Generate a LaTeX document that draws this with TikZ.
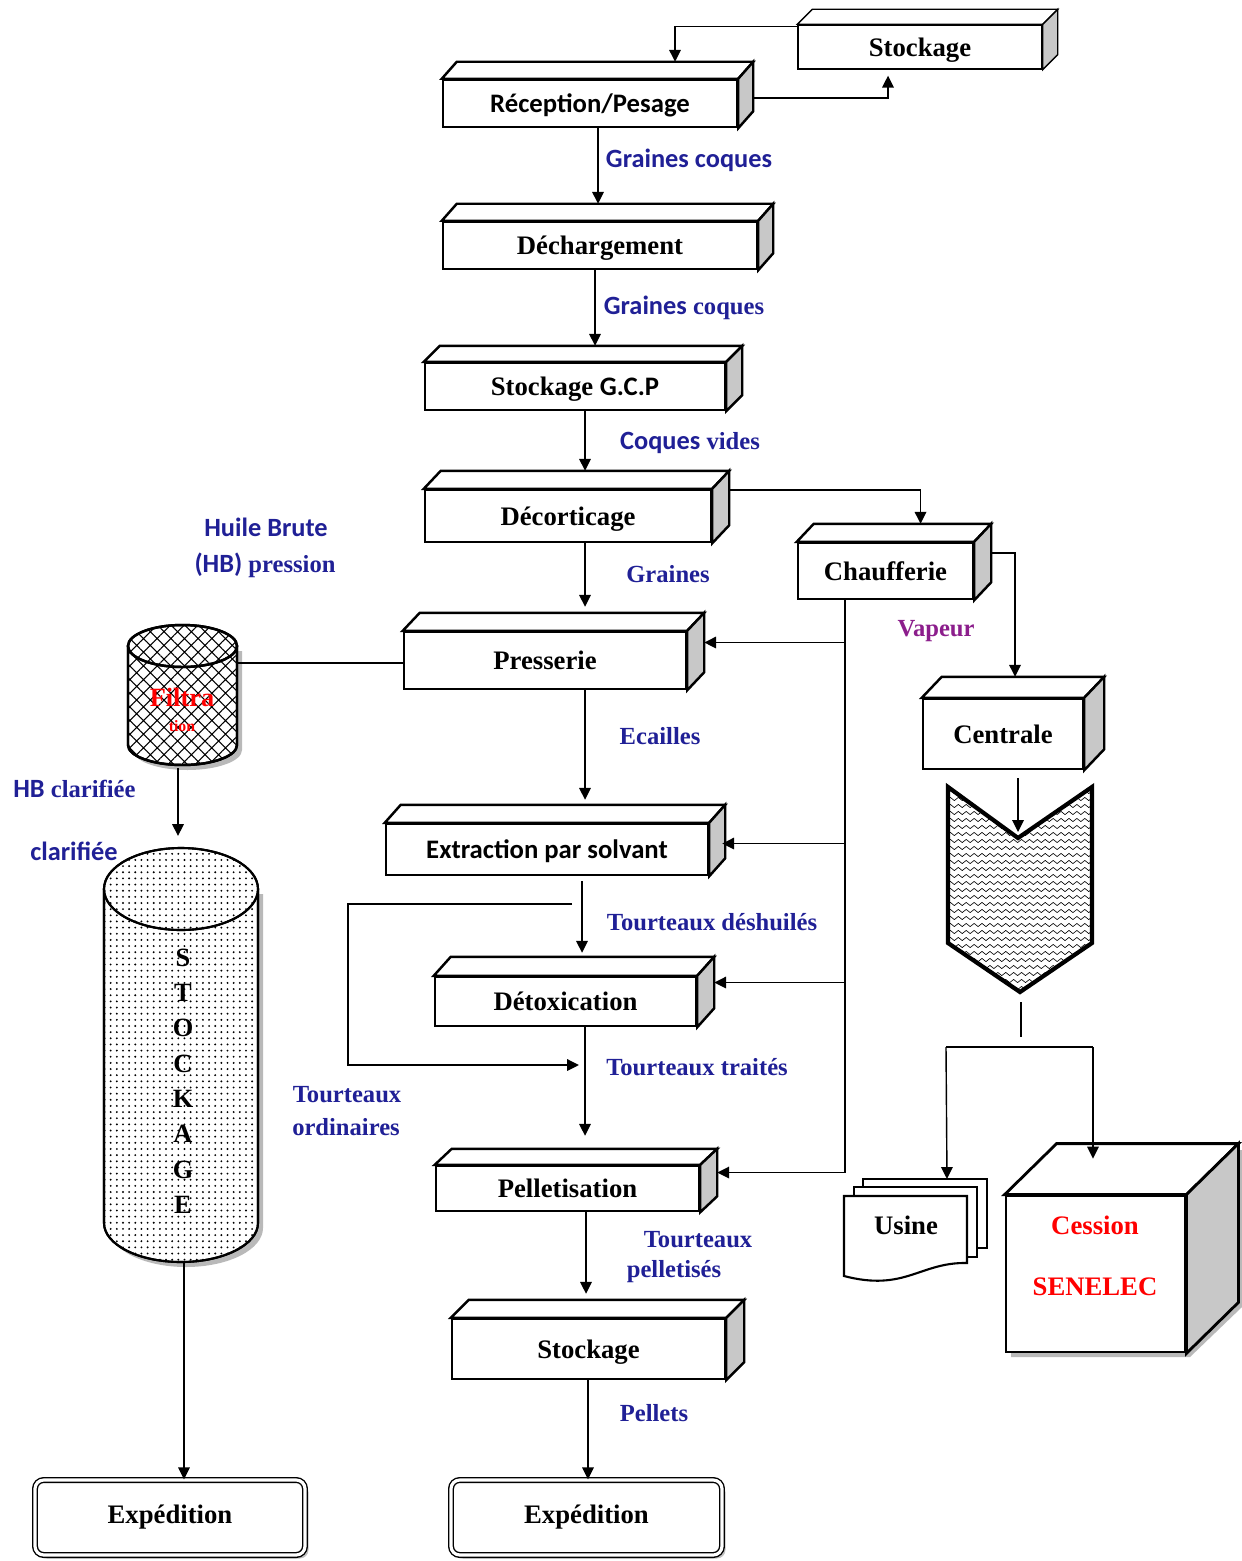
\documentclass[tikz,border=0pt]{standalone}
\usepackage{fontspec}
\setmainfont{Liberation Serif}
\newfontfamily\calfont{Carlito}
\usetikzlibrary{calc,arrows.meta,patterns.meta,decorations.pathmorphing,shadows}
\definecolor{lblue}{RGB}{32,32,150}
\definecolor{vap}{RGB}{140,30,140}
\definecolor{sidegray}{RGB}{200,200,200}
\newlength\px \setlength\px{0.02cm}
\newcommand\blkfaces[4]{%
  \draw[line width=#4, fill=white] (#1.north west) -- ++(#2,-#3) -- ($(#1.north east)+(#2,-#3)$) -- (#1.north east) -- cycle;
  \draw[line width=#4, fill=sidegray] (#1.north east) -- ++(#2,-#3) -- ($(#1.south east)+(#2,-#3)$) -- (#1.south east) -- cycle;
  \coordinate (#1-t) at ($(#1.north)+(#2,-#3)$);
  \coordinate (#1-r) at ($(#1.east)+(#2,-#3)$);
}
\begin{document}
\begin{tikzpicture}[x=0.02cm,y=-0.02cm,
  blk/.style={draw, line width=1.4pt, fill=white, inner sep=0pt, text depth=0pt, font=\bfseries\fontsize{15.2}{18}\selectfont},
  arr/.style={line width=0.8pt, -{Triangle[length=6.8pt,width=6.6pt]}},
  ln/.style={line width=0.8pt},
  lbl/.style={text=lblue, font=\bfseries\fontsize{14}{17}\selectfont, inner sep=0pt},
  slbl/.style={text=lblue, font=\calfont\bfseries\fontsize{15}{18}\selectfont, inner sep=0pt},
  expbox/.style={draw, line width=0.8pt, double=white, double distance=1.8pt, fill=white, rounded corners=5pt,
     drop shadow={shadow xshift=2pt, shadow yshift=-2pt, fill=gray!60, opacity=0.8},
     font=\bfseries\fontsize{15.2}{18}\selectfont},
  txt/.style={inner sep=0pt, font=\bfseries\fontsize{15.2}{18}\selectfont}
]
\useasboundingbox (0,0) rectangle (1241,1561);
\fill[white] (0,0) rectangle (1241,1561);

% ---------- 3D process boxes ----------
\node[blk, line width=0.8pt, minimum width=244\px, minimum height=44\px] (stk1) at (920,47) {Stockage};
\blkfaces{stk1}{15}{15}{0.8pt}
\node[blk, minimum width=294\px, minimum height=47\px] (rec) at (590,103.5) {\calfont Réception/Pesage};
\blkfaces{rec}{15}{17}{1.4pt}
\node[blk, minimum width=314\px, minimum height=47\px] (dech) at (600,245.5) {Déchargement};
\blkfaces{dech}{15}{17}{1.4pt}
\node[blk, minimum width=300\px, minimum height=47\px] (gcp) at (575,386.5) {Stockage~{\calfont G.C.P}};
\blkfaces{gcp}{16}{16}{1.4pt}
\node[blk, minimum width=286\px, minimum height=52\px] (deco) at (568,516) {Décorticage};
\blkfaces{deco}{17}{18}{1.4pt}
\node[blk, minimum width=175\px, minimum height=56\px] (chauf) at (885.5,571) {Chaufferie};
\blkfaces{chauf}{17}{18}{1.4pt}
\node[blk, minimum width=282\px, minimum height=57\px] (press) at (545,660.5) {Presserie};
\blkfaces{press}{17}{18}{1.4pt}
\node[blk, minimum width=160\px, minimum height=70\px] (centr) at (1003,734) {Centrale};
\blkfaces{centr}{20}{21}{1.4pt}
\node[blk, minimum width=322\px, minimum height=51\px] (extr) at (547,849.5) {\calfont Extraction par solvant};
\blkfaces{extr}{16}{18}{1.4pt}
\node[blk, minimum width=261\px, minimum height=49\px] (detox) at (565.5,1001.5) {Détoxication};
\blkfaces{detox}{17}{19}{1.4pt}
\node[blk, minimum width=263\px, minimum height=45\px] (pellet) at (567.5,1188.5) {Pelletisation};
\blkfaces{pellet}{17}{16}{1.4pt}
\node[blk, minimum width=273\px, minimum height=60\px] (stk2) at (588.5,1349) {Stockage};
\blkfaces{stk2}{18}{18}{1.4pt}

% ---------- Expedition ----------
\node[expbox, minimum width=270\px, minimum height=75\px] (exp1) at (170,1517.5) {Expédition};
\node[expbox, minimum width=271\px, minimum height=75\px] (exp2) at (586.5,1517.5) {Expédition};

% ---------- Filtration cylinder ----------
\fill[gray!55] (133,651) -- (133,750) arc[start angle=180,end angle=0,x radius=54.5,y radius=20] -- (242,651) -- cycle;
\filldraw[fill=white, line width=1.4pt] (128,646) -- (128,745) arc[start angle=180,end angle=0,x radius=54.5,y radius=20] -- (237,646) -- cycle;
\fill[pattern={Hatch[angle=45,distance=5.5pt,line width=0.6pt]}] (128,646) -- (128,745) arc[start angle=180,end angle=0,x radius=54.5,y radius=20] -- (237,646) -- cycle;
\draw[line width=1.4pt] (128,646) -- (128,745) arc[start angle=180,end angle=0,x radius=54.5,y radius=20] -- (237,646);
\filldraw[fill=white, line width=1.4pt] (182.5,646) ellipse [x radius=54.5, y radius=21];
\fill[pattern={Hatch[angle=45,distance=5.5pt,line width=0.6pt]}] (182.5,646) ellipse [x radius=54.5, y radius=21];
\draw[line width=1.4pt] (182.5,646) ellipse [x radius=54.5, y radius=21];
\node[inner sep=0pt, text=red, font=\bfseries\fontsize{15}{18}\selectfont] (filt) at (182,697) {Filtra};
\node[inner sep=0pt, text=red, font=\bfseries\fontsize{9}{10}\selectfont] (filt2) at (182,726) {tion};
\coordinate (filt-r) at (237,663);
\coordinate (filt-b) at (178,768);

% ---------- big storage tank ----------
\fill[gray!55] (109,894) -- (109,1228) arc[start angle=180,end angle=0,x radius=77,y radius=39] -- (263,894) -- cycle;
\filldraw[fill=white, line width=1.2pt] (104,889) -- (104,1223) arc[start angle=180,end angle=0,x radius=77,y radius=39] -- (258,889) -- cycle;
\fill[pattern={Dots[distance=3.5pt,radius=0.6pt]}] (104,889) -- (104,1223) arc[start angle=180,end angle=0,x radius=77,y radius=39] -- (258,889) -- cycle;
\draw[line width=1.2pt] (104,889) -- (104,1223) arc[start angle=180,end angle=0,x radius=77,y radius=39] -- (258,889);
\filldraw[fill=white, line width=1.2pt] (181,889) ellipse [x radius=77, y radius=41];
\fill[pattern={Dots[distance=3.5pt,radius=0.6pt]}] (181,889) ellipse [x radius=77, y radius=41];
\draw[line width=1.2pt] (181,889) ellipse [x radius=77, y radius=41];
\node[inner sep=0pt, align=center, font=\bfseries\fontsize{15}{20.1}\selectfont] (tank) at (183,1081) {S\\T\\O\\C\\K\\A\\G\\E};
\coordinate (tank-t) at (178,836);
\coordinate (tank-b) at (184,1262);

% ---------- chevron ----------
\begin{scope}
\clip (948,787) -- (1018,838) -- (1092,787) -- (1092,943) -- (1020,992) -- (948,943) -- cycle;
\fill[white] (940,780) rectangle (1100,1000);
\foreach \yy in {785,792,...,1000}
  \draw[line width=0.35pt, decorate, decoration={snake, segment length=4.5pt, amplitude=0.9pt}] (940,\yy) -- (1100,\yy);
\end{scope}
\draw[line width=2.4pt] (948,787) -- (1018,838) -- (1092,787) -- (1092,943) -- (1020,992) -- (948,943) -- cycle;
\coordinate (chn) at (1018,838);
\coordinate (chb) at (1021,1002);
\coordinate (chs) at (1021,1037);
\coordinate (spl) at (946,1047);
\coordinate (spr) at (1093,1047);

% ---------- Usine ----------
\filldraw[fill=white, line width=1.2pt] (863,1179) rectangle (987,1248);
\filldraw[fill=white, line width=1.2pt] (854,1187) rectangle (977,1257);
\filldraw[fill=white, line width=1.2pt] (844,1196) -- (967,1196) -- (967,1263) .. controls (920,1262) and (905,1292) .. (844,1276) -- cycle;
\node[txt] (usine) at (906,1225) {Usine};
\coordinate (usine-in) at (947,1179);

% ---------- Cession cube ----------
\fill[gray!55] (1011,1201) -- (1063,1150) -- (1242,1150) -- (1242,1307) -- (1190,1357) -- (1011,1357) -- cycle;
\node[draw, line width=1.6pt, fill=white, minimum width=179\px, minimum height=156\px] (cess) at (1095.5,1274) {};
\blkfaces{cess}{52}{51}{1.6pt}
\node[inner sep=0pt, text=red, align=center, font=\bfseries\fontsize{15.2}{34.6}\selectfont] (cesstxt) at (1095,1256) {Cession\\SENELEC};
\coordinate (cess-in) at ($(cess.north)+(0,-36)$);

% ---------- connectors ----------
\coordinate (a1) at (598,0);
\coordinate (a2) at (595,0);
\coordinate (a3) at (585,0);
\coordinate (a6) at (582,0);
\coordinate (a8) at (586,0);
\coordinate (a9) at (588,0);
\coordinate (vxx) at (845,0);

\draw[arr] ([yshift=-2\px]stk1.north west) -| ([xshift=70\px]rec-t);
\draw[arr, shorten >=6\px] ([yshift=-11.5\px]rec-r) -| ([xshift=-32\px]stk1.south);
\draw[arr] (rec.south -| a1) -- (dech-t -| a1);
\draw[arr] (dech.south -| a2) -- (gcp-t -| a2);
\draw[arr] (gcp.south -| a3) -- (deco-t -| a3);
\draw[arr, shorten >=6\px] (deco.south -| a3) -- (press-t -| a3);
\draw[arr, shorten >=5\px] (press.south -| a3) -- (extr-t -| a3);
\draw[arr, shorten <=5\px, shorten >=4\px] (extr.south -| a6) -- (detox-t -| a6);
\draw[arr, shorten >=13\px] (detox.south -| a3) -- (pellet-t -| a3);
\draw[arr, shorten >=6\px] (pellet.south -| a8) -- (stk2-t -| a8);
\draw[arr] (stk2.south -| a9) -- (exp2.north -| a9);

\draw[arr] ([yshift=8\px]deco-r) -| ([xshift=18\px]chauf-t);
\draw[arr] (chauf-r) -| ([xshift=-8\px]centr-t);

\draw[arr] (chauf.south -| vxx) |- (pellet-r);
\draw[arr] (press-r -| vxx) -- (press-r);
\coordinate (extr-a) at ($(extr-r)+(-3,12)$);
\draw[arr] (extr-a -| vxx) -- (extr-a);
\draw[arr] (detox-r -| vxx) -- (detox-r);

\draw[arr, shorten <=8\px, shorten >=6\px] (centr.south -| chn) -- (chn);
\draw[ln] (chb) -- (chs);
\draw[ln] (spl) -- (spr);
\draw[arr] (spl) -- (usine-in);
\draw[arr] (spr) -- (spr |- cess-in);

\coordinate (lp1) at (572,904);
\coordinate (lpx) at (348,1000);
\coordinate (lp2) at (579,1065);
\draw[arr] (lp1) -| (lpx) |- (lp2);

\draw[ln] (filt-r -| press.west) -- (filt-r);
\draw[arr] (filt-b) -- (tank-t);
\draw[arr] (tank-b) -- (exp1.north -| tank-b);

% ---------- labels ----------
\node[slbl] (l1) at (689,160) {Graines coques};
\node[lbl] (l2) at (684,308) {{\calfont\fontsize{15}{18}\selectfont Graines} coques};
\node[lbl] (l3) at (690,443) {{\calfont\fontsize{15}{18}\selectfont Coques} vides};
\node[lbl] (l4) at (668,574) {Graines};
\node[lbl] (l5) at (660,736) {Ecailles};
\node[lbl] (l6) at (712,922) {Tourteaux déshuilés};
\node[lbl] (l7) at (697,1067) {Tourteaux traités};
\node[lbl] (l8) at (698,1240) {Tourteaux};
\node[lbl] (l9) at (674,1272) {pelletisés};
\node[lbl] (l10) at (654,1413) {Pellets};
\node[slbl] (l11) at (266,527) {Huile Brute};
\node[lbl] (l12) at (265,565) {{\calfont\fontsize{15}{18}\selectfont (HB)} pression};
\node[lbl, anchor=west] (l13) at (13,789) {{\calfont\fontsize{15}{18}\selectfont HB} clarifiée};
\node[slbl] (l14) at (74,851) {clarifiée};
\node[lbl] (l15) at (347,1095) {Tourteaux};
\node[lbl] (l16) at (346,1127) {ordinaires};
\node[lbl, text=vap] (l17) at (936,631) {Vapeur};
\end{tikzpicture}
\end{document}
